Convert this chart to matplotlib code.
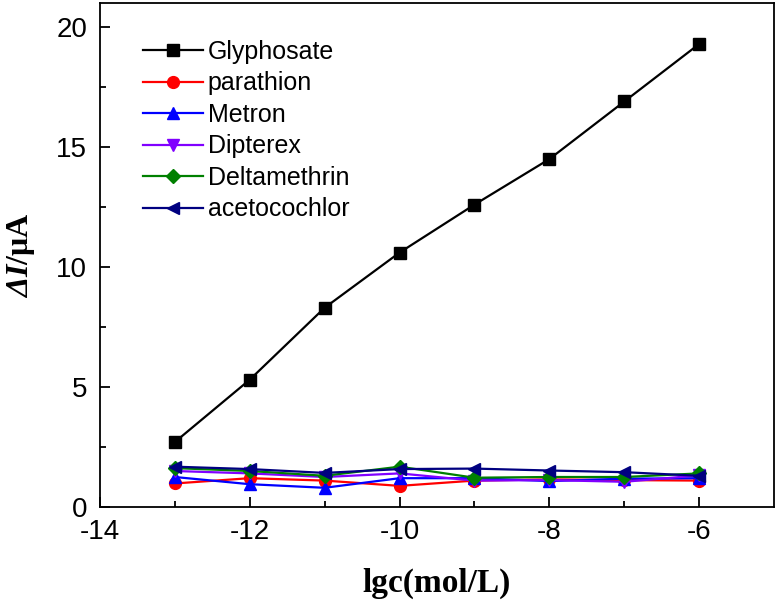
import numpy as np
import matplotlib.pyplot as plt

# data
lgc = [-13, -12, -11, -10, -9, -8, -7, -6]
glyphosate = [2.7, 5.3, 8.3, 10.6, 12.6, 14.5, 16.9, 19.3]
parathion = [0.98, 1.2, 1.1, 0.88, 1.1, 1.15, 1.12, 1.1]
metron = [1.25, 0.95, 0.8, 1.2, 1.2, 1.08, 1.18, 1.2]
dipterex = [1.5, 1.4, 1.25, 1.4, 1.1, 1.12, 1.05, 1.32]
deltamethrin = [1.62, 1.5, 1.3, 1.68, 1.22, 1.25, 1.25, 1.4]
acetocochlor = [1.68, 1.58, 1.42, 1.58, 1.6, 1.52, 1.45, 1.3]

series = [
    ("Glyphosate", glyphosate, "black", "s"),
    ("parathion", parathion, "#ff0000", "o"),
    ("Metron", metron, "#0000ff", "^"),
    ("Dipterex", dipterex, "#8000ff", "v"),
    ("Deltamethrin", deltamethrin, "#008000", "D"),
    ("acetocochlor", acetocochlor, "#000080", "<"),
]

plt.rcParams['font.family'] = ['Liberation Sans', 'DejaVu Sans']
plt.rcParams['axes.unicode_minus'] = False
plt.rcParams['mathtext.fontset'] = 'custom'
plt.rcParams['mathtext.bfit'] = 'Liberation Serif:italic:bold'
plt.rcParams['mathtext.it'] = 'Liberation Serif:italic:bold'
plt.rcParams['mathtext.rm'] = 'Liberation Serif:bold'

fig = plt.figure(figsize=(7.79, 6.05), dpi=100)
ax = fig.add_axes([0.128, 0.162, 0.866, 0.833])

for name, vals, col, mk in series:
    ms = 7.5 if mk == "D" else 8.5
    ax.plot(lgc, vals, color=col, marker=mk, markersize=ms, linewidth=1.6, label=name)

ax.set_xlim(-14, -5)
ax.set_ylim(0, 21)
ax.set_xticks([-14, -12, -10, -8, -6])
ax.set_xticks(np.arange(-13, -5, 2), minor=True)
ax.set_yticks([0, 5, 10, 15, 20])
ax.set_yticks(np.arange(2.5, 20, 5), minor=True)
ax.tick_params(direction='in', which='major', length=7, width=1.3, labelsize=20, pad=9)
ax.tick_params(direction='in', which='minor', length=4, width=1.3)
for sp in ax.spines.values():
    sp.set_linewidth(1.3)

ax.set_xlabel("lgc(mol/L)", family='Liberation Serif', fontweight='bold', fontsize=24, labelpad=16)
ax.set_ylabel(r"$\mathbfit{\Delta I}$/μA", family='Liberation Serif', fontweight='bold', fontsize=23, labelpad=14)

ax.legend(loc='upper left', frameon=False, fontsize=18, handlelength=2.4, handletextpad=0.2,
          labelspacing=0.3, borderpad=0, borderaxespad=0, bbox_to_anchor=(0.064, 0.927))

fig.savefig("out.png", dpi=100)
